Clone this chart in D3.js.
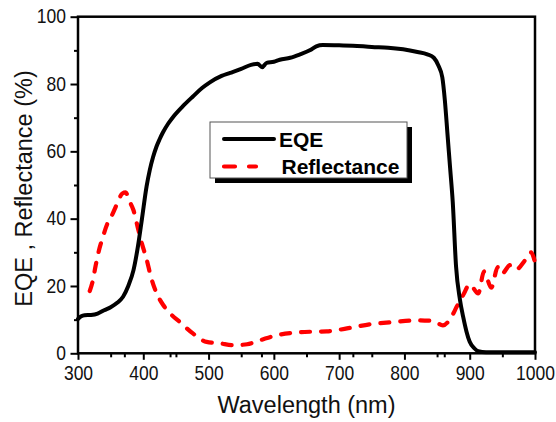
<!DOCTYPE html>
<html>
<head>
<meta charset="utf-8">
<script src="https://cdn.jsdelivr.net/npm/d3@7"></script>
<style>
  html, body { margin: 0; padding: 0; background: #fff; }
  svg { display: block; font-family: "Liberation Sans", Arial, sans-serif; }
</style>
</head>
<body>
<svg id="chart" width="556" height="422"></svg>
<script>
// ---- data ----
const eqeWl  = [300,305,310,320,330,340,350,360,369,377,385,392,398,405,410,415,420,425,430,438,446,460,476,490,502,520,533,550,565,575,582,589,600,609,625,640,655,665,675,700,721,750,775,798,820,835,845,852,858,862,866,870,874,879,885,890,895,900,907,913,925,950,1000];
const eqeVal = [10.2,11,11.3,11.4,11.8,12.8,13.7,15,16.8,20,24.7,32,40,49.5,54.5,58.3,61.3,63.6,65.6,68.2,70.3,73.3,76.3,78.8,80.5,82.4,83.3,84.5,85.7,86,85,86.3,86.6,87.2,87.8,88.8,90,91.2,91.6,91.5,91.4,91,90.8,90.3,89.5,88.8,87.8,85.5,82,75,65,55,45,26,16,10.8,6.5,3.4,1.5,0.6,0.3,0.3,0.3];

const refWl  = [318,322,327,332,338,345,352,360,368,373,378,385,392,398,405,412,420,430,441,456,476,497,517,537,550,559,579,605,630,655,681,712,747,783,819,844,859,872,880,890,900,913,922,933,943,949,962,971,985,994,1000];
const refVal = [18.5,21,26,30.5,34.5,38.5,41,44.5,47.5,47.8,45.5,42.5,37,32.5,28,22.5,18,14.5,11.9,9.3,5.9,3.4,3,2.4,2.5,2.7,3.9,5.4,6.1,6.4,6.5,7.4,8.6,9.3,9.8,9.6,8.3,10.8,13.8,17.3,20.5,17.8,24.3,19.5,25.6,23.6,26.2,24.9,27.7,30,27];

const xMajor = [300,400,500,600,700,800,900,1000];
const xMinor = [350,450,550,650,750,850,950];
const xExtra = [371,441,581,721,861];
const yMajor = [0,20,40,60,80,100];
const yMinor = [10,30,50,70,90];

const seriesNames = ["EQE", "Reflectance"];
const xTitle = "Wavelength (nm)";
const yTitle = "EQE , Reflectance (%)";

// ---- layout ----
const svg = d3.select("#chart");
const pLeft = 78, pRight = 535, pTop = 16.7, pBottom = 353.3;
const x = d3.scaleLinear().domain([300, 1000]).range([pLeft, pRight]);
const y = d3.scaleLinear().domain([0, 100]).range([pBottom, pTop]);

// minor ticks
const gxMinor = svg.append("g").attr("transform", `translate(0,${pBottom})`)
  .call(d3.axisBottom(x).tickValues(xMinor.concat(xExtra)).tickSize(4).tickFormat(""));
const gyMinor = svg.append("g").attr("transform", `translate(${pLeft},0)`)
  .call(d3.axisLeft(y).tickValues(yMinor).tickSize(4).tickFormat(""));

// major ticks
const gx = svg.append("g").attr("transform", `translate(0,${pBottom})`)
  .call(d3.axisBottom(x).tickValues(xMajor).tickSize(6.5).tickFormat(d3.format("d")));
const gy = svg.append("g").attr("transform", `translate(${pLeft},0)`)
  .call(d3.axisLeft(y).tickValues(yMajor).tickSize(7.5).tickFormat(d3.format("d")));

[gxMinor, gyMinor, gx, gy].forEach(g => {
  g.select(".domain").remove();
  g.selectAll(".tick line").attr("stroke", "#000").attr("stroke-width", 2);
});

gx.selectAll(".tick text")
  .attr("fill", "#111").attr("font-size", 17.5).attr("font-family", "Liberation Sans, Arial, sans-serif")
  .attr("dy", 0).attr("y", 26.7 / 1.18)
  .attr("transform", "scale(1,1.18)");
gy.selectAll(".tick text")
  .attr("fill", "#111").attr("font-size", 17.5).attr("font-family", "Liberation Sans, Arial, sans-serif")
  .attr("dy", 0).attr("x", -12).attr("y", 6.2 / 1.18)
  .attr("transform", "scale(1,1.18)");

// frame
svg.append("rect")
  .attr("x", pLeft).attr("y", pTop)
  .attr("width", pRight - pLeft).attr("height", pBottom - pTop)
  .attr("fill", "none").attr("stroke", "#000").attr("stroke-width", 2.5);

// lines
const lineGen = d3.line().x(d => x(d[0])).y(d => y(d[1])).curve(d3.curveMonotoneX);

svg.append("path")
  .datum(refWl.map((w, i) => [w, refVal[i]]))
  .attr("d", lineGen)
  .attr("fill", "none").attr("stroke", "#ff0000").attr("stroke-width", 4.2)
  .attr("stroke-dasharray", "9,11").attr("stroke-linecap", "round");

svg.append("path")
  .datum(eqeWl.map((w, i) => [w, eqeVal[i]]))
  .attr("d", lineGen)
  .attr("fill", "none").attr("stroke", "#000").attr("stroke-width", 4)
  .attr("stroke-linejoin", "round").attr("stroke-linecap", "round");

// legend
const lg = svg.append("g");
lg.append("rect").attr("x", 215).attr("y", 127).attr("width", 197).attr("height", 56).attr("fill", "#000");
lg.append("rect").attr("x", 210).attr("y", 122).attr("width", 197).attr("height", 56)
  .attr("fill", "#fff").attr("stroke", "#555").attr("stroke-width", 1);
lg.append("line").attr("x1", 224).attr("x2", 274).attr("y1", 139).attr("y2", 139)
  .attr("stroke", "#000").attr("stroke-width", 4).attr("stroke-linecap", "round");
lg.append("line").attr("x1", 224).attr("x2", 256).attr("y1", 166.5).attr("y2", 166.5)
  .attr("stroke", "#ff0000").attr("stroke-width", 4.2).attr("stroke-linecap", "round")
  .attr("stroke-dasharray", "11,14");
lg.append("text").attr("x", 279).attr("y", 146.5).attr("font-size", 21).attr("font-weight", "bold")
  .attr("fill", "#000").text(seriesNames[0]);
lg.append("text").attr("x", 281.5).attr("y", 173.5).attr("font-size", 21).attr("font-weight", "bold")
  .attr("fill", "#000").text(seriesNames[1]);

// axis titles
svg.append("text").attr("x", 306.5).attr("y", 413).attr("text-anchor", "middle")
  .attr("font-size", 23.5).attr("fill", "#111").text(xTitle);
svg.append("text").attr("transform", "translate(32,188.5) rotate(-90)")
  .attr("text-anchor", "middle").attr("font-size", 23.5).attr("fill", "#111").text(yTitle);
</script>
</body>
</html>
